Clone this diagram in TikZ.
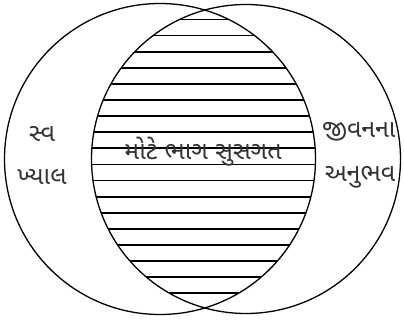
\documentclass[tikz,border=0pt]{standalone}
\usepackage{fontspec}
\newfontfamily\guj[Script=Gujarati]{Noto Sans Gujarati UI}
\begin{document}
\begin{tikzpicture}[x=1pt,y=-1pt,
  ring/.style={line width=1.3pt,black},
  hatch/.style={line width=1.8pt,black},
  lbl/.style={font=\guj\fontsize{25}{30}\selectfont,text=black!80,inner sep=0pt}]
\useasboundingbox (0,0) rectangle (404,321);
\fill[white] (0,0) rectangle (404,321);
\begin{scope}
  \clip (160,159) circle (155.5);
  \clip (246,159) circle (154.5);
  \foreach \y in {19.5,35.6,...,300} {
    \draw[hatch] (80,\y) -- (330,\y);
  }
\end{scope}
\draw[ring] (160,159) circle (155.5);
\draw[ring] (246,159) circle (154.5);
\node[lbl] (sva) at (42,134) {સ્વ};
\node[lbl] (khyal) at (42,177) {ખ્યાલ};
\node[lbl] (mid) at (203,152) {મોટે ભાગ સુસગત};
\node[lbl] (jivan) at (359,132) {જીવનના};
\node[lbl] (anubhav) at (360,177) {અનુભવ};
\end{tikzpicture}
\end{document}
